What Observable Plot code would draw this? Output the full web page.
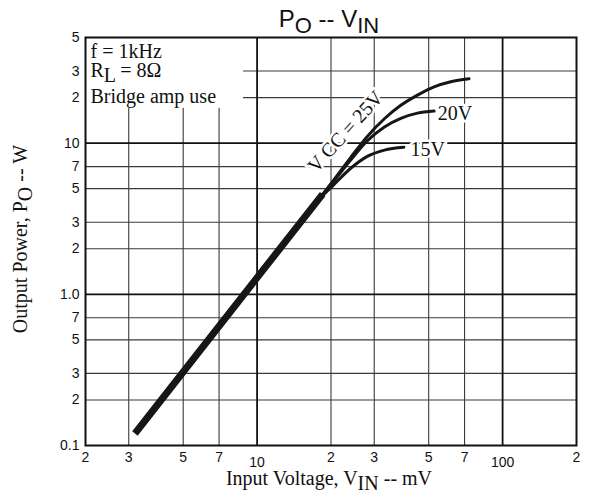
<!DOCTYPE html>
<html><head><meta charset="utf-8">
<script src="https://cdn.jsdelivr.net/npm/d3@7"></script>
<script src="https://cdn.jsdelivr.net/npm/@observablehq/plot@0.6"></script>
<style>
body{margin:0;background:#fff;}
#chart{width:589px;height:499px;}
</style></head><body><div id="chart"></div>
<script>
// ---- data ----
const mainVin = [3.18, 10, 18.5];
const mainPo  = [0.12, 1.29, 4.6];
const vin25 = [15, 17.3, 20.5, 24, 28, 33, 38.5, 45, 52.6, 61.5, 73];
const po25  = [2.98, 4.0, 5.7, 8.0, 11.0, 14.5, 17.8, 20.8, 23.6, 25.5, 26.7];
const vin20 = [15, 17.3, 20.5, 24, 28, 33, 38.5, 45, 52.6];
const po20  = [2.98, 4.0, 5.6, 7.7, 10.3, 12.8, 14.6, 15.8, 16.3];
const vin15 = [15, 17.3, 20.5, 24, 28, 33, 39.6];
const po15  = [2.98, 4.0, 5.3, 6.8, 8.15, 9.0, 9.4];

const xTicksMinor = [2, 3, 5, 7, 20, 30, 50, 70, 200];
const xTickLabelsMinor = ["2", "3", "5", "7", "2", "3", "5", "7", "2"];
const xTicksMajor = [10, 100];
const xTickLabelsMajor = ["10", "100"];
const yTicks = [0.1, 0.2, 0.3, 0.5, 0.7, 1, 2, 3, 5, 7, 10, 20, 30, 50];
const yTickLabels = ["0.1", "2", "3", "5", "7", "1.0", "2", "3", "5", "7", "10", "2", "3", "5"];

const xGridMinor = [3, 5, 7, 20, 30, 50, 70];
const xGridMajor = [10, 100];
const yGridMinor = [0.2, 0.3, 0.5, 0.7, 2, 3, 5, 7, 20, 30];
const yGridMajor = [1, 10];

const curveLabels = ["V CC = 25V", "20V", "15V"];
const labelVin = [22.9, 54.4, 42.2];
const labelPo  = [11.9, 15.6, 9.1];

const noteBoxVin = [2, 8.8];
const noteBoxPo  = [17, 50];

// ---- tables ----
const toRows = (xs, ys) => xs.map((x, i) => ({x, y: ys[i]}));
const serif = "'Liberation Serif', 'Times New Roman', serif";
const sans = "'Liberation Sans', Arial, Helvetica, sans-serif";
const ink = "#161616";

const plot = Plot.plot({
  width: 589, height: 499,
  marginTop: 37, marginBottom: 54, marginLeft: 85, marginRight: 13,
  x: {type: "log", domain: [2, 200], axis: null},
  y: {type: "log", domain: [0.1, 50], axis: null},
  style: {fontFamily: sans, fontSize: "14px", color: "#111", background: "white", overflow: "visible"},
  marks: [
    Plot.ruleX(xGridMinor, {stroke: "#3a3a3a", strokeWidth: 1.1}),
    Plot.ruleY(yGridMinor, {stroke: "#3a3a3a", strokeWidth: 1.1}),
    Plot.ruleX(xGridMajor, {stroke: "#111", strokeWidth: 1.8}),
    Plot.ruleY(yGridMajor, {stroke: "#111", strokeWidth: 1.8}),
    Plot.rect([0], {x1: () => noteBoxVin[0], x2: () => noteBoxVin[1], y1: () => noteBoxPo[0], y2: () => noteBoxPo[1], fill: "white"}),
    Plot.frame({stroke: "#111", strokeWidth: 2}),
    Plot.line(toRows(vin15, po15), {x: "x", y: "y", stroke: ink, strokeWidth: 3, curve: "monotone-x"}),
    Plot.line(toRows(vin20, po20), {x: "x", y: "y", stroke: ink, strokeWidth: 3, curve: "monotone-x"}),
    Plot.line(toRows(vin25, po25), {x: "x", y: "y", stroke: ink, strokeWidth: 3, curve: "monotone-x"}),
    Plot.line(toRows(mainVin, mainPo), {x: "x", y: "y", stroke: ink, strokeWidth: 7, strokeLinecap: "butt"}),
    Plot.text([0], {x: () => labelVin[0], y: () => labelPo[0], text: () => curveLabels[0], rotate: -48,
      fontFamily: serif, fontSize: 20, fill: "#111", stroke: "white", strokeWidth: 5, paintOrder: "stroke"}),
    Plot.text([1, 2], {x: i => labelVin[i], y: i => labelPo[i], text: i => curveLabels[i], textAnchor: "start",
      fontFamily: serif, fontSize: 20, fill: "#111", stroke: "white", strokeWidth: 5, paintOrder: "stroke"}),
    Plot.text(xTicksMinor, {x: d => d, text: d => xTickLabelsMinor[xTicksMinor.indexOf(d)], frameAnchor: "bottom", lineAnchor: "top", dy: 7, fill: "#111"}),
    Plot.text(xTicksMajor, {x: d => d, text: d => xTickLabelsMajor[xTicksMajor.indexOf(d)], frameAnchor: "bottom", lineAnchor: "top", dy: 12, fill: "#111"}),
    Plot.text(yTicks, {y: d => d, text: d => yTickLabels[yTicks.indexOf(d)], frameAnchor: "left", textAnchor: "end", dx: -6, fill: "#111"})
  ]
});

const svg = d3.select(plot);

// title
const title = svg.append("text").attr("x", 329).attr("y", 27).attr("text-anchor", "middle")
  .attr("font-family", sans).attr("font-size", 24).attr("fill", "#111");
title.append("tspan").text("P");
title.append("tspan").attr("dy", 6).attr("font-size", 22).text("O");
title.append("tspan").attr("dy", -6).text(" -- V");
title.append("tspan").attr("dy", 6).attr("font-size", 22).text("IN");

// x axis title
const xt = svg.append("text").attr("x", 329).attr("y", 485).attr("text-anchor", "middle")
  .attr("font-family", serif).attr("font-size", 20).attr("fill", "#111");
xt.append("tspan").text("Input Voltage, V");
xt.append("tspan").attr("dy", 5).text("IN");
xt.append("tspan").attr("dy", -5).text(" -- mV");

// y axis title
const yt = svg.append("text").attr("transform", "translate(27,239) rotate(-90)").attr("text-anchor", "middle")
  .attr("font-family", serif).attr("font-size", 20).attr("fill", "#111");
yt.append("tspan").text("Output Power, P");
yt.append("tspan").attr("dy", 5).text("O");
yt.append("tspan").attr("dy", -5).text(" -- W");

// conditions note
const note = svg.append("g").attr("font-family", serif).attr("font-size", 20).attr("fill", "#111")
  .attr("text-anchor", "start");
note.append("text").attr("x", 90.5).attr("y", 58.3).attr("text-anchor", "start").text("f = 1kHz");
const rl = note.append("text").attr("x", 90.5).attr("y", 77.3).attr("text-anchor", "start");
rl.append("tspan").text("R");
rl.append("tspan").attr("dy", 4.5).text("L");
rl.append("tspan").attr("dy", -4.5).text(" = 8Ω");
note.append("text").attr("x", 90.5).attr("y", 102.7).attr("text-anchor", "start").text("Bridge amp use");

document.getElementById("chart").appendChild(plot);
</script>
</body></html>
